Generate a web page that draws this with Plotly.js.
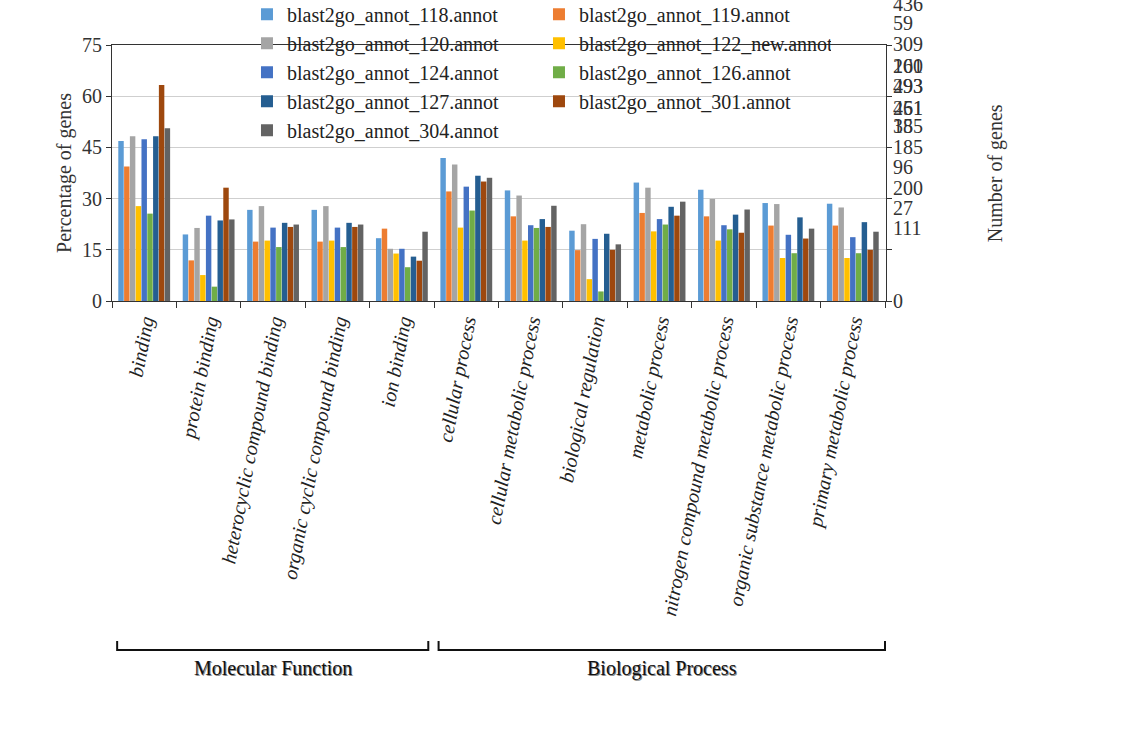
<!DOCTYPE html>
<html>
<head>
<meta charset="utf-8">
<script src="https://cdn.plot.ly/plotly-3.0.1.min.js"></script>
<style>html,body{margin:0;padding:0;background:#fff;}#chart{width:1147px;height:732px;}</style>
</head>
<body>
<div id="chart"></div>
<script>
// ---- data ----
const categories = [
  "binding", "protein binding", "heterocyclic compound binding", "organic cyclic compound binding",
  "ion binding", "cellular process", "cellular metabolic process", "biological regulation",
  "metabolic process", "nitrogen compound metabolic process", "organic substance metabolic process",
  "primary metabolic process"
];
const seriesNames = [
  "blast2go_annot_118.annot", "blast2go_annot_119.annot", "blast2go_annot_120.annot",
  "blast2go_annot_122_new.annot", "blast2go_annot_124.annot", "blast2go_annot_126.annot",
  "blast2go_annot_127.annot", "blast2go_annot_301.annot", "blast2go_annot_304.annot"
];
const s118 = [46.9, 19.5, 26.7, 26.7, 18.4, 41.9, 32.4, 20.6, 34.7, 32.6, 28.7, 28.5];
const s119 = [39.4, 11.9, 17.4, 17.4, 21.2, 32.1, 24.8, 14.9, 25.8, 24.8, 22.1, 22.1];
const s120 = [48.3, 21.4, 27.8, 27.8, 15.3, 40.0, 30.9, 22.5, 33.2, 29.9, 28.4, 27.4];
const s122 = [27.8, 7.6, 17.7, 17.7, 13.9, 21.5, 17.7, 6.4, 20.4, 17.7, 12.6, 12.6];
const s124 = [47.4, 25.0, 21.5, 21.5, 15.3, 33.5, 22.2, 18.2, 24.0, 22.2, 19.4, 18.7];
const s126 = [25.6, 4.2, 15.8, 15.8, 9.9, 26.5, 21.4, 2.8, 22.4, 21.0, 14.0, 14.0];
const s127 = [48.3, 23.6, 22.9, 22.9, 13.0, 36.7, 24.0, 19.7, 27.6, 25.3, 24.5, 23.1];
const s301 = [63.3, 33.2, 21.7, 21.7, 11.8, 35.0, 21.7, 15.0, 25.0, 20.0, 18.3, 15.0];
const s304 = [50.6, 23.9, 22.4, 22.4, 20.3, 36.1, 27.9, 16.6, 29.1, 26.8, 21.2, 20.3];
const seriesValues = [s118, s119, s120, s122, s124, s126, s127, s301, s304];

// left axis scale
const yMax = 75;
const yTicks = [0, 15, 30, 45, 60, 75];

// right-axis gene-count labels and the percentage level where each sits
const rightLabels = ["436", "59", "309", "201", "160", "493", "293", "451", "261", "185", "35", "185", "96", "200", "27", "111", "0"];
const rightLabelPos = [87.4, 81.9, 75.8, 69.4, 69.4, 63.5, 63.5, 57.1, 57.1, 51.8, 51.8, 45.7, 39.8, 33.4, 27.7, 21.9, 0];

// ontology groups (first and last category index)
const groupNames = ["Molecular Function", "Biological Process"];
const groupStart = [0, 5];
const groupEnd = [4, 11];

// ---- style ----
const colors = ["#5B9BD5", "#ED7D31", "#A5A5A5", "#FFC000", "#4472C4", "#70AD47", "#255E91", "#9E480E", "#636363"];
const FONT = "Liberation Serif, Times New Roman, serif";
const FS = 20;

const traces = seriesNames.map((name, i) => ({
  type: "bar",
  name: name,
  x: categories,
  y: seriesValues[i],
  marker: {color: colors[i]},
  hoverinfo: "x+y+name"
}));

const annotations = rightLabels.map((t, i) => ({
  text: t, xref: "paper", yref: "paper", x: 1, y: rightLabelPos[i] / yMax,
  xanchor: "left", yanchor: "middle", xshift: 5, yshift: i === rightLabels.length - 1 ? 0 : -1.5,
  showarrow: false,
  font: {family: FONT, size: FS, color: "#333"}
}));
annotations.push({
  text: "Number of genes", xref: "paper", yref: "paper", x: 1.141, y: 0.5,
  textangle: -90, showarrow: false, xanchor: "center", yanchor: "middle",
  font: {family: FONT, size: FS, color: "#333"}
});

const shapes = [];
groupNames.forEach((g, i) => {
  const xa = groupStart[i] - (i === 0 ? 0.42 : 0.43);
  const x1 = groupEnd[i] + (i === 0 ? 0.41 : 0.5);
  shapes.push({type: "path", xref: "x", yref: "paper",
    path: `M ${xa} -1.328 L ${xa} -1.363 L ${x1} -1.363 L ${x1} -1.328`,
    line: {color: "#111", width: 2}});
  annotations.push({
    text: g, xref: "x", yref: "paper", x: (xa + x1) / 2, y: -1.435,
    showarrow: false, xanchor: "center", yanchor: "middle",
    font: {family: FONT, size: FS, color: "#111", shadow: "1px 1px 0px #888"}
  });
});

const layout = {
  width: 1147, height: 732,
  margin: {l: 112, r: 261, t: 45, b: 431, autoexpand: false},
  paper_bgcolor: "#fff", plot_bgcolor: "#fff",
  font: {family: FONT, size: FS, color: "#333"},
  barmode: "group", bargap: 0.19, bargroupgap: 0.06,
  showlegend: true,
  legend: {
    orientation: "h", x: 0.1744, y: 1.196, xanchor: "left", yanchor: "top",
    entrywidth: 247, bgcolor: "rgba(0,0,0,0)", borderwidth: 0,
    font: {family: FONT, size: FS, color: "#222"}, traceorder: "normal"
  },
  xaxis: {
    type: "category", showgrid: false, showline: true, linecolor: "#333", linewidth: 1.2,
    mirror: true, ticks: "outside", tickson: "boundaries", ticklen: 6, tickcolor: "#333",
    tickangle: -79, automargin: false,
    tickfont: {family: FONT, size: FS, color: "#222", style: "italic"}
  },
  yaxis: {
    range: [0, yMax], tickvals: yTicks, showgrid: true, gridcolor: "#cfcfcf",
    showline: true, linecolor: "#333", linewidth: 1.2, mirror: "ticks", ticks: "outside",
    ticklen: 5, tickcolor: "#333", zeroline: false, automargin: false,
    tickfont: {family: FONT, size: FS, color: "#333"},
    title: {text: "Percentage of genes", standoff: 4, font: {family: FONT, size: FS, color: "#333"}}
  },
  annotations: annotations,
  shapes: shapes
};

Plotly.newPlot("chart", traces, layout, {displayModeBar: false, responsive: false});
</script>
</body>
</html>
